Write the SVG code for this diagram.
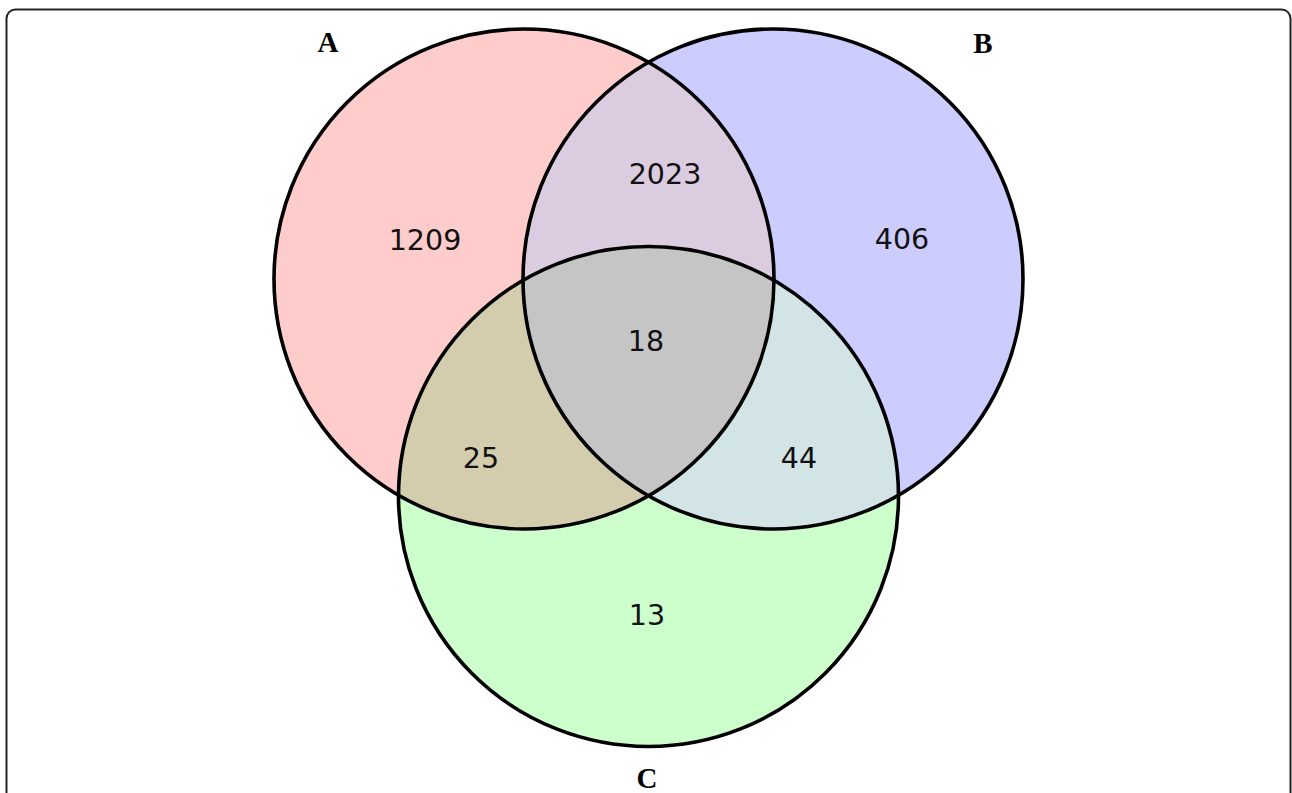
<svg xmlns="http://www.w3.org/2000/svg" width="1292" height="793" viewBox="0 0 1292 793">
<style>
.lbl{font-family:"Liberation Serif",serif;font-weight:bold;font-size:29px;fill:#000;text-anchor:middle}
.num{font-family:"DejaVu Sans",sans-serif;font-size:28.5px;fill:#111;text-anchor:middle}
.ring{fill:none;stroke:#000;stroke-width:3.6}
</style>
<defs>
<clipPath id="cA"><circle cx="524" cy="279" r="250"/></clipPath>
<clipPath id="cB"><circle cx="773" cy="279" r="250"/></clipPath>
</defs>
<rect width="1292" height="793" fill="#fff"/>
<rect x="6.5" y="9.5" width="1284" height="800" rx="9" fill="#fff" stroke="#222" stroke-width="2"/>
<g id="fills">
<circle cx="524" cy="279" r="250" fill="#ffcccc"/>
<circle cx="773" cy="279" r="250" fill="#ccccff"/>
<circle cx="648.5" cy="496.5" r="250" fill="#ccffcc"/>
<g clip-path="url(#cA)"><circle cx="773" cy="279" r="250" fill="#dccce0"/></g>
<g clip-path="url(#cA)"><circle cx="648.5" cy="496.5" r="250" fill="#d4cdad"/></g>
<g clip-path="url(#cB)"><circle cx="648.5" cy="496.5" r="250" fill="#d2e4e6"/></g>
<g clip-path="url(#cA)"><g clip-path="url(#cB)"><circle cx="648.5" cy="496.5" r="250" fill="#c5c5c5"/></g></g>
</g>
<g id="nodeA"><circle class="ring" cx="524" cy="279" r="250"/><text class="lbl" x="328" y="52">A</text></g>
<g id="nodeB"><circle class="ring" cx="773" cy="279" r="250"/><text class="lbl" x="983" y="53">B</text></g>
<g id="nodeC"><circle class="ring" cx="648.5" cy="496.5" r="250"/><text class="lbl" x="647" y="788">C</text></g>
<g id="counts">
<text class="num" x="425" y="250">1209</text>
<text class="num" x="665" y="184">2023</text>
<text class="num" x="902" y="249">406</text>
<text class="num" x="646" y="351">18</text>
<text class="num" x="481" y="468">25</text>
<text class="num" x="799" y="468">44</text>
<text class="num" x="647" y="625">13</text>
</g>
</svg>
